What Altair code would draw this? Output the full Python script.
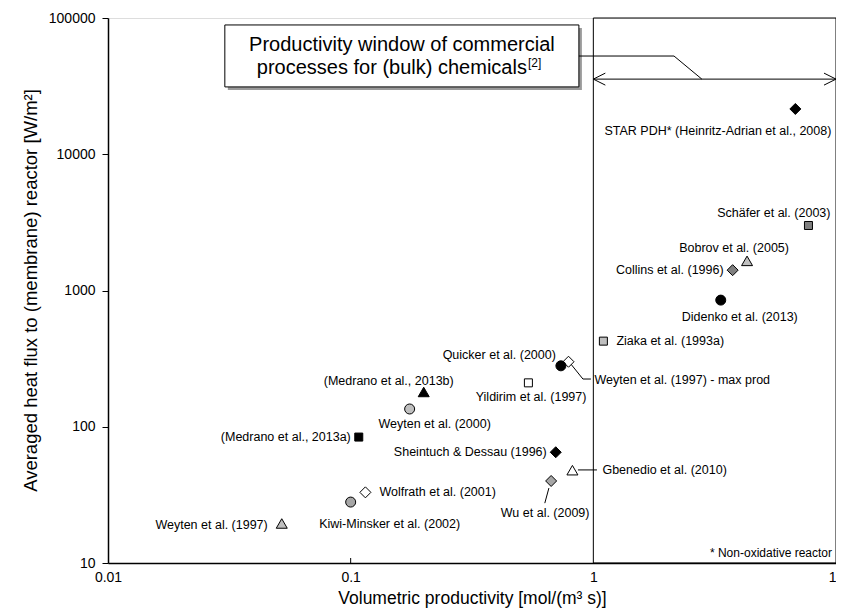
import altair as alt
import pandas as pd

# ---------------- data ----------------
studies = [
    "STAR PDH* (Heinritz-Adrian  et al., 2008)",
    "Schäfer et al. (2003)",
    "Bobrov et al. (2005)",
    "Collins et al. (1996)",
    "Didenko et al. (2013)",
    "Ziaka et al. (1993a)",
    "Weyten et al. (1997) - max prod",
    "Quicker et al. (2000)",
    "Yildirim et al. (1997)",
    "(Medrano et al., 2013b)",
    "Weyten et al. (2000)",
    "(Medrano et al., 2013a)",
    "Sheintuch & Dessau (1996)",
    "Gbenedio et al. (2010)",
    "Wu et al. (2009)",
    "Wolfrath et al. (2001)",
    "Kiwi-Minsker et al. (2002)",
    "Weyten et al. (1997)",
]
productivity = [6.8, 7.7, 4.3, 3.75, 3.35, 1.1, 0.79, 0.735, 0.54, 0.2, 0.175,
                0.108, 0.70, 0.82, 0.67, 0.115, 0.10, 0.052]
heat_flux = [21500, 3000, 1650, 1410, 850, 425, 300, 280, 210, 180, 135,
             84, 65, 48, 40, 33, 28, 19.5]
marker_shape = ["diamond", "square", "triangle-up", "diamond", "circle", "square",
                "diamond", "circle", "square", "triangle-up", "circle", "square",
                "diamond", "triangle-up", "diamond", "diamond", "circle", "triangle-up"]
marker_fill = ["#000000", "#808080", "#c0c0c0", "#808080", "#000000", "#bfbfbf",
               "#ffffff", "#000000", "#ffffff", "#000000", "#bfbfbf", "#000000",
               "#000000", "#ffffff", "#a6a6a6", "#ffffff", "#a6a6a6", "#bfbfbf"]

x_ticks = [0.01, 0.1, 1, 10]
y_ticks = [10, 100, 1000, 10000, 100000]

# productivity window of commercial processes (x range) and annotation items
window_x = [1, 10]
window_y = [10, 100000]
arrow_level = 35600
box_x = [0.0303, 0.872]
box_y = [31200, 88900]
box_center = [0.1626, 52600]
box_text_1 = "Productivity window of commercial"
box_text_2 = "processes for (bulk) chemicals"
box_ref = "[2]"
footnote = "* Non-oxidative reactor"

# leader segments (data units): x, y, x2, y2
seg_x = [0.872, 2.15, 1, 0.794, 0.906, 0.864, 0.656]
seg_y = [52600, 52600, arrow_level, 300, 224, 48.2, 35.5]
seg_x2 = [2.15, 2.80, 10, 0.906, 0.977, 1.035, 0.631]
seg_y2 = [52600, arrow_level, arrow_level, 224, 224, 48.2, 27.5]

# ---------------- styles ----------------
FONT = "Liberation Sans"
shape_size = {"diamond": 121, "square": 64, "circle": 100, "triangle-up": 121}
label_style = {
    studies[0]: ("right", 36, 22),
    studies[1]: ("right", 22, -12),
    studies[2]: ("center", -13, -13),
    studies[3]: ("right", -9, 0),
    studies[4]: ("center", 19, 17),
    studies[5]: ("left", 13, 0),
    studies[6]: ("left", 26, 18),
    studies[7]: ("right", -5, -11),
    studies[8]: ("right", 58, 14),
    studies[9]: ("right", 30, -11),
    studies[10]: ("center", 25, 15),
    studies[11]: ("right", -8, 0),
    studies[12]: ("right", -9, 0),
    studies[13]: ("left", 30, 0),
    studies[14]: ("center", -6, 32),
    studies[15]: ("left", 14, 0),
    studies[16]: ("center", 39, 22),
    studies[17]: ("right", -14, 2),
}

xscale = alt.Scale(type="log", domain=[x_ticks[0], x_ticks[-1]], nice=False)
yscale = alt.Scale(type="log", domain=[y_ticks[0], y_ticks[-1]], nice=False)

xaxis = alt.Axis(values=x_ticks, format="~g", grid=False, ticks=True, tickSize=0,
                 labelPadding=7, labelFlush=False, labelOverlap=False,
                 domainColor="black", domainWidth=1.5, labelColor="black",
                 labelFontSize=14, labelFont=FONT, titleFont=FONT,
                 titleFontSize=17.5, titleFontWeight="normal", titleColor="black",
                 titleBaseline="middle", titleY=35)
yaxis = alt.Axis(values=y_ticks, format="d", grid=False, tickSize=6, tickColor="black",
                 tickWidth=1, labelPadding=7, labelFlush=False, labelOverlap=False,
                 domainColor="black", domainWidth=1.5, labelColor="black",
                 labelFontSize=14, labelFont=FONT, titleFont=FONT,
                 titleFontSize=18.5, titleFontWeight="normal", titleColor="black",
                 titleX=-78, titleY=272, titleAlign="center", titleBaseline="middle")

X = alt.X("x:Q", scale=xscale, axis=xaxis, title="Volumetric  productivity [mol/(m³ s)]")
Y = alt.Y("y:Q", scale=yscale, axis=yaxis, title="Averaged heat flux to (membrane)  reactor [W/m²]")

df = pd.DataFrame({"x": productivity, "y": heat_flux, "label": studies,
                   "shape": marker_shape, "fill": marker_fill})
df["size"] = df["shape"].map(shape_size)

window_df = pd.DataFrame({"x": [window_x[0]], "x2": [window_x[1]],
                          "y": [window_y[0]], "y2": [window_y[1]]})
box_df = pd.DataFrame({"x": [box_x[0]], "x2": [box_x[1]], "y": [box_y[0]], "y2": [box_y[1]]})
center_df = pd.DataFrame({"x": [box_center[0]], "y": [box_center[1]]})
seg_df = pd.DataFrame({"x": seg_x, "y": seg_y, "x2": seg_x2, "y2": seg_y2})
head_df = pd.DataFrame({"x": window_x, "y": [arrow_level, arrow_level],
                        "path": ["M2,-1L0,0L2,1", "M-2,-1L0,0L-2,1"]})
tick_df = pd.DataFrame({"x": [0.1]})
foot_df = pd.DataFrame({"x": [window_x[1]], "y": [window_y[0]]})

layers = []
layers.append(alt.Chart(window_df).mark_rect(fillOpacity=0, stroke="black", strokeWidth=1)
              .encode(x=X, x2="x2:Q", y=Y, y2="y2:Q"))
layers.append(alt.Chart(box_df).mark_rect(fill="#9a9a9a", xOffset=3, x2Offset=3,
                                          yOffset=3, y2Offset=3)
              .encode(x=X, x2="x2:Q", y=Y, y2="y2:Q"))
layers.append(alt.Chart(box_df).mark_rect(fill="white", stroke="black", strokeWidth=1)
              .encode(x=X, x2="x2:Q", y=Y, y2="y2:Q"))
layers.append(alt.Chart(center_df).mark_text(text=box_text_1, font=FONT, fontSize=20,
                                             align="center", baseline="middle", dy=-11,
                                             color="black")
              .encode(x=X, y=Y))
layers.append(alt.Chart(center_df).mark_text(text=box_text_2, font=FONT, fontSize=20,
                                             align="right", baseline="middle", dx=125,
                                             dy=12, color="black")
              .encode(x=X, y=Y))
layers.append(alt.Chart(center_df).mark_text(text=box_ref, font=FONT, fontSize=12,
                                             align="left", baseline="middle", dx=126,
                                             dy=7, color="black")
              .encode(x=X, y=Y))
layers.append(alt.Chart(seg_df).mark_rule(color="black", strokeWidth=1)
              .encode(x=X, y=Y, x2="x2:Q", y2="y2:Q"))
layers.append(alt.Chart(head_df).mark_point(filled=False, stroke="black", strokeWidth=1,
                                            size=144, opacity=1)
              .encode(x=X, y=Y, shape=alt.Shape("path:N", scale=None)))
layers.append(alt.Chart(tick_df).mark_rule(color="black", strokeWidth=1)
              .encode(x=X, y=alt.value(545), y2=alt.value(540)))
layers.append(alt.Chart(df).mark_point(filled=True, stroke="black", strokeWidth=1,
                                       opacity=1, fillOpacity=1)
              .encode(x=X, y=Y,
                      shape=alt.Shape("shape:N", scale=None),
                      fill=alt.Fill("fill:N", scale=None),
                      size=alt.Size("size:Q", scale=None)))
for name in studies:
    align, dx, dy = label_style[name]
    layers.append(alt.Chart(df[df["label"] == name])
                  .mark_text(font=FONT, fontSize=12.5, align=align, baseline="middle",
                             dx=dx, dy=dy, color="black")
                  .encode(x=X, y=Y, text="label:N"))
layers.append(alt.Chart(foot_df).mark_text(text=footnote, font=FONT, fontSize=12,
                                           align="right", baseline="middle", dx=-4,
                                           dy=-10, color="black")
              .encode(x=X, y=Y))

chart = alt.layer(*layers).properties(
    width=728, height=545,
    autosize=alt.AutoSizeParams(type="none"),
    padding={"left": 100, "top": 10, "right": 0, "bottom": 45},
    background="white",
).configure_view(stroke=None).configure(font=FONT)

chart.save("out.html", embed_options={"renderer": "svg", "actions": False})
